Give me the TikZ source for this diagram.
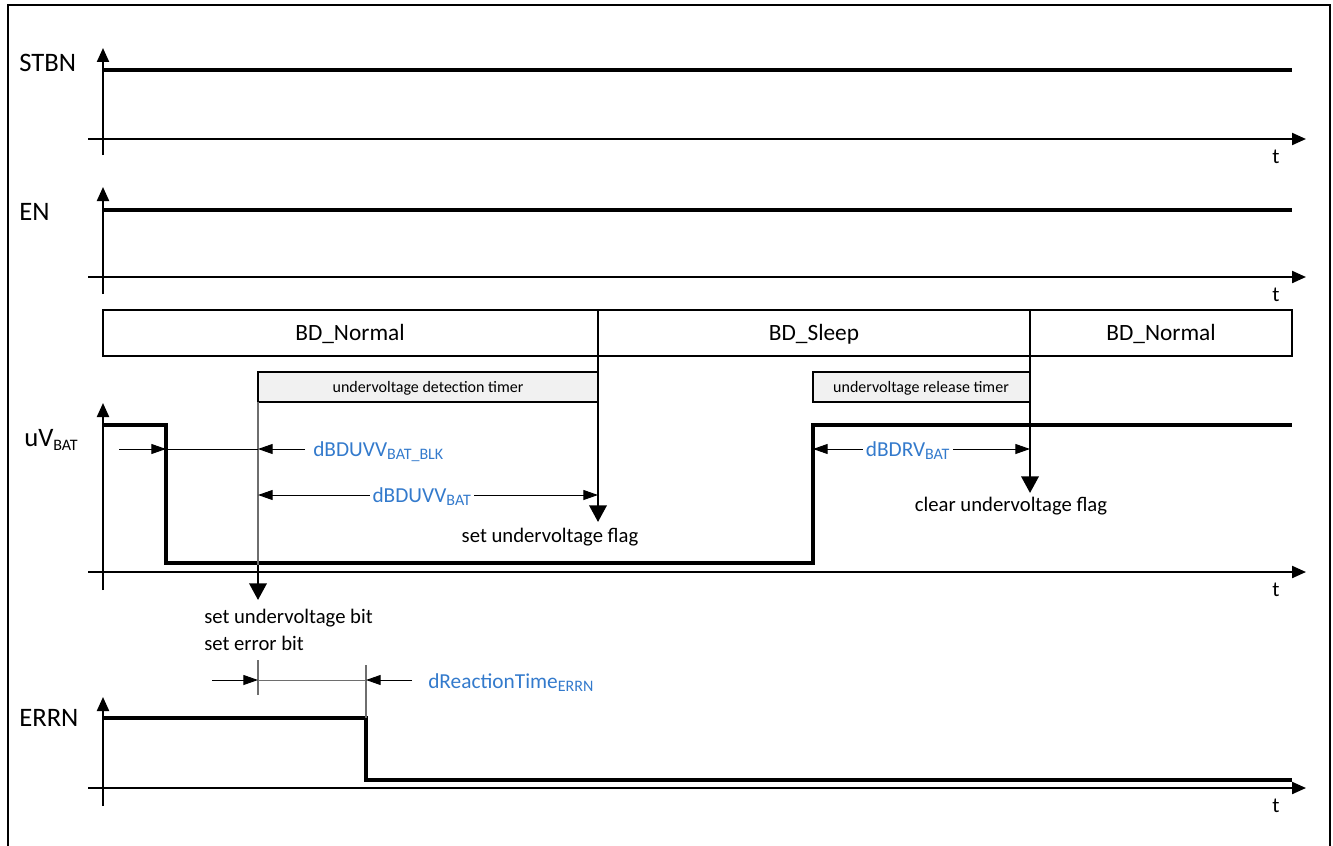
\documentclass[tikz,border=0pt]{standalone}
\usepackage{fontspec}
\setmainfont{Carlito}
\usetikzlibrary{arrows.meta}
\definecolor{dimblue}{RGB}{51,122,204}
\definecolor{boxgray}{RGB}{241,241,241}
\definecolor{guidegray}{RGB}{110,110,110}
\begin{document}
\begin{tikzpicture}[x=0.75pt,y=-0.75pt,
  axisline/.style={line width=1.6pt,-{Triangle[length=10.5pt,width=9pt]}},
  signal/.style={line width=2.3pt,line join=miter},
  sigtext/.style={font=\fontsize{20}{24}\selectfont,anchor=base west,inner sep=0pt},
  ttext/.style={font=\fontsize{16}{19}\selectfont,anchor=base,inner sep=0pt},
  statetext/.style={font=\fontsize{17.5}{21}\selectfont,anchor=base,inner sep=0pt},
  timertext/.style={font=\fontsize{12}{14}\selectfont,anchor=base,inner sep=0pt},
  notetext/.style={font=\fontsize{15.5}{19}\selectfont,inner sep=0pt},
  dimtext/.style={font=\fontsize{16}{19}\selectfont,text=dimblue,anchor=base west,inner sep=0pt},
  dimline/.style={line width=0.75pt},
  dimarrow/.style={line width=0.75pt,-{Triangle[length=11pt,width=7.5pt]}},
  dimboth/.style={line width=0.75pt,{Triangle[length=11pt,width=7.5pt]}-{Triangle[length=11pt,width=7.5pt]}},
  guide/.style={line width=0.9pt,draw=guidegray},
  blackguide/.style={line width=0.9pt},
  flagarrow/.style={line width=1.9pt,-{Triangle[length=12.5pt,width=13pt]}},
  timerbox/.style={draw,line width=1.8pt,fill=boxgray},
  statebox/.style={draw,line width=1.6pt}
]
\useasboundingbox (0,0) rectangle (1333,845);
% outer frame
\draw[line width=1.8pt] (8,860) -- (8,5) -- (1330,5) -- (1330,860);

% ---------- STBN ----------
\coordinate (s-ybot) at (103,155); \coordinate (s-ytop) at (103,48);
\coordinate (s-xl) at (88,139); \coordinate (s-xr) at (1306,139);
\draw[axisline] (s-ybot) -- (s-ytop);
\draw[axisline] (s-xl) -- (s-xr);
\draw[signal] (103,70) -- (1292,70);
\node[sigtext] (stbn) at (19,72) {STBN};
\node[ttext] (t1) at (1276,163) {t};

% ---------- EN ----------
\coordinate (e-ybot) at (103,294); \coordinate (e-ytop) at (103,187);
\coordinate (e-xl) at (88,277); \coordinate (e-xr) at (1306,277);
\draw[axisline] (e-ybot) -- (e-ytop);
\draw[axisline] (e-xl) -- (e-xr);
\draw[signal] (103,210) -- (1292,210);
\node[sigtext] (en) at (19,220) {EN};
\node[ttext] (t2) at (1276,301) {t};

% ---------- BD state row ----------
\draw[statebox] (103,310) rectangle (1292,356);
\draw[line width=1.6pt] (598,310) -- (598,356);
\draw[line width=1.6pt] (1030,310) -- (1030,356);
\node[statetext] (bd1) at (350,340) {BD\_Normal};
\node[statetext] (bd2) at (814,340) {BD\_Sleep};
\node[statetext] (bd3) at (1161,340) {BD\_Normal};

% ---------- timer boxes ----------
\draw[timerbox] (258,372) rectangle (598,402);
\node[timertext] (tm1) at (428,392) {undervoltage detection timer};
\draw[timerbox] (813,372) rectangle (1030,402);
\node[timertext] (tm2) at (921,392) {undervoltage release timer};

% ---------- uVBAT ----------
\coordinate (u-ybot) at (103,590); \coordinate (u-ytop) at (103,403);
\coordinate (u-xl) at (88,572); \coordinate (u-xr) at (1306,572);
\draw[axisline] (u-ybot) -- (u-ytop);
\draw[axisline] (u-xl) -- (u-xr);
\draw[signal] (103,425) -- (166,425) -- (166,563) -- (813,563) -- (813,425) -- (1292,425);
\node[sigtext] (uvbat) at (24,446) {uV\textsubscript{\fontsize{12}{14}\selectfont BAT}};
\node[ttext] (t3) at (1276,596) {t};

% guide line at 258 with arrow to "set undervoltage bit"
\coordinate (g1top) at (258,402);
\coordinate (g1mid) at (258,575);
\coordinate (g1tip) at (258,600);
\draw[guide] (g1top) -- (g1mid);
\draw[flagarrow] (258,565) -- (g1tip);
\node[notetext,anchor=north west,align=left] (setbit) at (204,609) {set undervoltage bit\\[1pt]set error bit};

% guide line at 598 with arrow to "set undervoltage flag"
\coordinate (g2top) at (598,356);
\coordinate (g2tip) at (598,522);
\draw[blackguide] (g2top) -- (598,490);
\draw[flagarrow] (598,480) -- (g2tip);
\node[notetext,anchor=base] (setflag) at (550,542) {set undervoltage flag};

% guide line at 1030 with arrow to "clear undervoltage flag"
\coordinate (g3top) at (1030,356);
\coordinate (g3tip) at (1030,493);
\draw[blackguide] (g3top) -- (1030,460);
\draw[flagarrow] (1030,448) -- (g3tip);
\node[notetext,anchor=base] (clrflag) at (1011,511) {clear undervoltage flag};

% dBDUVV_BAT_BLK
\coordinate (b1) at (119,449); \coordinate (b2) at (166,449);
\coordinate (b3) at (258,449); \coordinate (b4) at (305,449);
\draw[dimarrow] (b1) -- (b2);
\draw[dimline] (b2) -- (b3);
\draw[dimarrow] (b4) -- (b3);
\node[dimtext] (lblk) at (313,456) {dBDUVV\textsubscript{\fontsize{12}{14}\selectfont BAT\_BLK}};

% dBDUVV_BAT
\coordinate (c1) at (258,495); \coordinate (c2) at (598,495);
\draw[dimboth] (c1) -- (c2);
\node[dimtext,anchor=base,fill=white,inner xsep=2pt,inner ysep=1pt] (luvv) at (422,502) {dBDUVV\textsubscript{\fontsize{12}{14}\selectfont BAT}};

% dBDRV_BAT
\coordinate (d1) at (813,449); \coordinate (d2) at (1030,449);
\draw[dimboth] (d1) -- (d2);
\node[dimtext,anchor=base,fill=white,inner xsep=2pt,inner ysep=1pt] (lrv) at (908,456) {dBDRV\textsubscript{\fontsize{12}{14}\selectfont BAT}};

% ---------- ERRN ----------
\coordinate (r-ybot) at (103,806); \coordinate (r-ytop) at (103,697);
\coordinate (r-xl) at (88,788); \coordinate (r-xr) at (1306,788);
\draw[axisline] (r-ybot) -- (r-ytop);
\draw[axisline] (r-xl) -- (r-xr);
\draw[signal] (103,718) -- (366,718) -- (366,780) -- (1292,780);
\node[sigtext] (errn) at (19,726) {ERRN};
\node[ttext] (t4) at (1276,812) {t};

% dReactionTime_ERRN
\draw[guide] (258,660) -- (258,695);
\draw[guide] (366,665) -- (366,718);
\coordinate (e1) at (212,680); \coordinate (e2) at (258,680);
\coordinate (e3) at (366,680); \coordinate (e4) at (412,680);
\draw[dimarrow] (e1) -- (e2);
\draw[dimline,draw=guidegray] (e2) -- (e3);
\draw[dimarrow] (e4) -- (e3);
\node[dimtext] (lreact) at (428,688) {dReactionTime\textsubscript{\fontsize{12}{14}\selectfont ERRN}};
\end{tikzpicture}
\end{document}
